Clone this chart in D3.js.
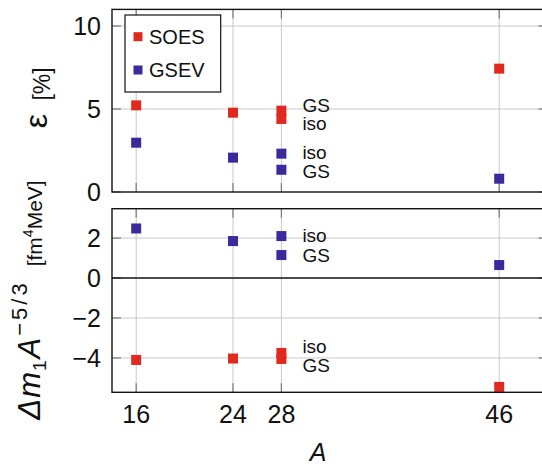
<!DOCTYPE html>
<html><head><meta charset="utf-8">
<script src="https://cdn.jsdelivr.net/npm/d3@7"></script>
<style>body{margin:0;background:#fff}svg{display:block}text{font-family:"Liberation Sans",Arial,sans-serif;fill:#111}</style>
</head><body>
<svg id="c" width="542" height="467"></svg>
<script>
// ---- data ----
const xTicks = [16, 24, 28, 46];
const topTicks = [0, 5, 10];
const botTicks = [-4, -2, 0, 2];
const seriesNames = ["SOES", "GSEV"];
const seriesColors = ["#e0291f", "#3a2a9c"];
// top panel: relative error ε [%]
const topSOES = [{A:16,v:5.22},{A:24,v:4.78},{A:28,v:4.9},{A:28,v:4.4},{A:46,v:7.43}];
const topGSEV = [{A:16,v:2.97},{A:24,v:2.07},{A:28,v:2.31},{A:28,v:1.34},{A:46,v:0.8}];
// bottom panel: Δm1 A^{-5/3}
const botSOES = [{A:16,v:-4.1},{A:24,v:-4.03},{A:28,v:-3.75},{A:28,v:-4.05},{A:46,v:-5.45}];
const botGSEV = [{A:16,v:2.48},{A:24,v:1.85},{A:28,v:2.1},{A:28,v:1.15},{A:46,v:0.65}];
// text annotations (A, value at text baseline)
const topNotes = [{A:28,v:4.84,t:"GS"},{A:28,v:3.73,t:"iso"},{A:28,v:1.97,t:"iso"},{A:28,v:0.84,t:"GS"}];
const botNotes = [{A:28,v:1.82,t:"iso"},{A:28,v:0.82,t:"GS"},{A:28,v:-3.77,t:"iso"},{A:28,v:-4.69,t:"GS"}];

// ---- layout ----
const svg = d3.select("#c");
const x = d3.scaleLinear().domain([14, 50]).range([112, 547.6]);
const yTop = d3.scaleLinear().domain([0, 11]).range([192, 9.4]);
const yBot = d3.scaleLinear().domain([-5.72, 3.47]).range([392.3, 208.7]);
const ms = 10;

function panel(y, yticks, series, notes, id, zeroLine) {
  const [y0, y1] = y.range();
  const x0 = x.range()[0], x1 = x.range()[1];
  const g = svg.append("g");
  svg.append("clipPath").attr("id", id).append("rect")
    .attr("x", x0).attr("y", y1).attr("width", x1 - x0).attr("height", y0 - y1);
  // grid
  g.selectAll(".gx").data(xTicks).join("line")
    .attr("x1", d => x(d)).attr("x2", d => x(d)).attr("y1", y0).attr("y2", y1)
    .attr("stroke", "#c9c9c9").attr("stroke-width", 1);
  g.selectAll(".gy").data(yticks.filter(d => d !== 0)).join("line")
    .attr("x1", x0).attr("x2", x1).attr("y1", d => y(d)).attr("y2", d => y(d))
    .attr("stroke", "#c9c9c9").attr("stroke-width", 1);
  // inner ticks
  const tl = 9, tc = "#7a7a7a";
  xTicks.forEach(t => {
    g.append("line").attr("x1", x(t)).attr("x2", x(t)).attr("y1", y1).attr("y2", y1 + tl).attr("stroke", tc).attr("stroke-width", 1.2);
    g.append("line").attr("x1", x(t)).attr("x2", x(t)).attr("y1", y0).attr("y2", y0 - tl).attr("stroke", tc).attr("stroke-width", 1.2);
  });
  yticks.forEach(t => {
    g.append("line").attr("x1", x0).attr("x2", x0 + tl).attr("y1", y(t)).attr("y2", y(t)).attr("stroke", tc).attr("stroke-width", 1.2);
    g.append("line").attr("x1", x1).attr("x2", x1 - tl).attr("y1", y(t)).attr("y2", y(t)).attr("stroke", tc).attr("stroke-width", 1.2);
  });
  if (zeroLine) {
    g.append("line").attr("x1", x0).attr("x2", x1).attr("y1", y(0)).attr("y2", y(0))
      .attr("stroke", "#111").attr("stroke-width", 1.4);
  }
  // markers
  const mg = g.append("g").attr("clip-path", `url(#${id})`);
  series.forEach((s, i) => {
    mg.selectAll(null).data(s).join("rect")
      .attr("x", d => x(d.A) - ms / 2).attr("y", d => y(d.v) - ms / 2)
      .attr("width", ms).attr("height", ms).attr("fill", seriesColors[i]);
  });
  // notes
  g.selectAll(null).data(notes).join("text")
    .attr("x", d => x(d.A) + 21).attr("y", d => y(d.v))
    .attr("font-size", 19).text(d => d.t);
  // frame
  g.append("rect").attr("x", x0).attr("y", y1).attr("width", x1 - x0).attr("height", y0 - y1)
    .attr("fill", "none").attr("stroke", "#111").attr("stroke-width", 1.4);
  // y tick labels
  g.selectAll(null).data(yticks).join("text")
    .attr("x", 101).attr("y", d => y(d)).attr("dy", "0.36em")
    .attr("text-anchor", "end").attr("font-size", 25)
    .text(d => d < 0 ? "\u2212" + Math.abs(d) : d);
}

panel(yTop, topTicks, [topSOES, topGSEV], topNotes, "clipTop", false);
panel(yBot, botTicks, [botSOES, botGSEV], botNotes, "clipBot", true);

// x tick labels
svg.selectAll(null).data(xTicks).join("text")
  .attr("x", d => x(d)).attr("y", 423).attr("text-anchor", "middle")
  .attr("font-size", 25).text(d => d);
svg.append("text").attr("x", 318).attr("y", 461).attr("text-anchor", "middle")
  .attr("font-size", 25).attr("font-style", "italic").text("A");

// legend
const lg = svg.append("g");
lg.append("rect").attr("x", 125).attr("y", 15).attr("width", 95.7).attr("height", 77)
  .attr("fill", "#fff").attr("stroke", "#111").attr("stroke-width", 1.2);
seriesNames.forEach((n, i) => {
  const cy = 36.7 + i * 33.3;
  lg.append("rect").attr("x", 138 - 4.5).attr("y", cy - 4.5).attr("width", 9).attr("height", 9).attr("fill", seriesColors[i]);
  lg.append("text").attr("x", 149).attr("y", cy + 7.3).attr("font-size", 20).text(n);
});

// y labels
svg.append("text").attr("transform", "translate(47,121) rotate(-90)").attr("text-anchor", "middle")
  .style("font-size", "32px").text("\u03b5");
svg.append("text").attr("transform", "translate(50,84) rotate(-90)").attr("text-anchor", "middle")
  .style("font-size", "23px").text("[%]");

const tl2 = svg.append("text").attr("transform", "translate(40,300) rotate(-90)").attr("text-anchor", "middle");
tl2.append("tspan").attr("font-size", 31).attr("font-style", "italic").attr("letter-spacing", 1).text("\u0394m");
tl2.append("tspan").attr("font-size", 19).attr("dy", 6).text("1");
tl2.append("tspan").attr("font-size", 31).attr("font-style", "italic").attr("dy", -6).attr("dx", 2).text("A");
tl2.append("tspan").attr("font-size", 22).attr("dy", -13).attr("dx", 2).attr("letter-spacing", 3).text("\u22125/3");
tl2.append("tspan").attr("font-size", 21).attr("dy", 15).attr("dx", 14).text("[fm");
tl2.append("tspan").attr("font-size", 14).attr("dy", -9).text("4");
tl2.append("tspan").attr("font-size", 21).attr("dy", 9).text("MeV]");
</script>
</body></html>
